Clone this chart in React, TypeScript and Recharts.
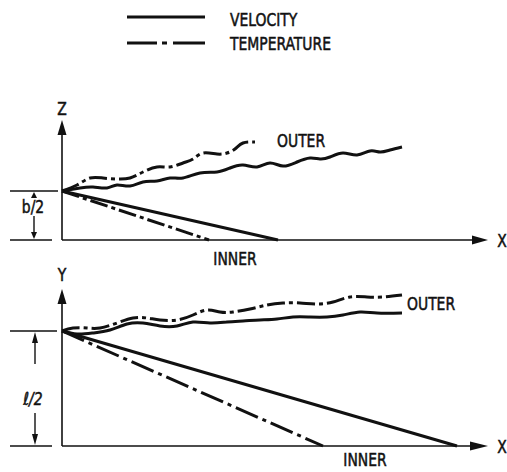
import React from 'react';
import { LineChart, Line, XAxis, YAxis, ReferenceLine, ReferenceDot, Legend } from 'recharts';

// ---------- data ----------
const legendLabels = ['VELOCITY', 'TEMPERATURE'];

// Top panel (X–Z plane): x measured from the Z axis, z measured from the X axis
const topVelocityOuter = [
  { x: 0, y: 49 }, { x: 18, y: 52 }, { x: 31, y: 53 }, { x: 45, y: 52 }, { x: 55, y: 55 },
  { x: 68, y: 54 }, { x: 81, y: 58 }, { x: 95, y: 59 }, { x: 108, y: 62 }, { x: 121, y: 62 },
  { x: 138, y: 67 }, { x: 155, y: 68 }, { x: 168, y: 72 }, { x: 181, y: 75 }, { x: 195, y: 73 },
  { x: 208, y: 77 }, { x: 221, y: 74 }, { x: 235, y: 78 }, { x: 248, y: 82 }, { x: 258, y: 81 },
  { x: 268, y: 83 }, { x: 281, y: 87 }, { x: 295, y: 85 }, { x: 308, y: 89 }, { x: 318, y: 88 },
  { x: 328, y: 90 }, { x: 340, y: 93 },
];
const topTemperatureOuter = [
  { x: 0, y: 49 }, { x: 15, y: 55 }, { x: 28, y: 62 }, { x: 41, y: 62 }, { x: 55, y: 61 },
  { x: 68, y: 62 }, { x: 81, y: 68 }, { x: 95, y: 73 }, { x: 108, y: 73 }, { x: 121, y: 77 },
  { x: 131, y: 81 }, { x: 141, y: 87 }, { x: 155, y: 86 }, { x: 165, y: 87 }, { x: 173, y: 91 },
  { x: 181, y: 97 }, { x: 193, y: 98 },
];
const topVelocityInner = [{ x: 0, y: 49 }, { x: 216, y: 0 }];
const topTemperatureInner = [{ x: 0, y: 49 }, { x: 147, y: 0 }];

// Bottom panel (X–Y plane): x measured from the Y axis, y measured from the X axis
const botVelocityOuter = [
  { x: 0, y: 115 }, { x: 15, y: 112 }, { x: 31, y: 113 }, { x: 48, y: 116 }, { x: 65, y: 122 },
  { x: 81, y: 123 }, { x: 98, y: 120 }, { x: 115, y: 120 }, { x: 131, y: 124 }, { x: 148, y: 123 },
  { x: 165, y: 124 }, { x: 181, y: 125 }, { x: 198, y: 126 }, { x: 215, y: 127 }, { x: 231, y: 129 },
  { x: 248, y: 129 }, { x: 265, y: 129 }, { x: 281, y: 131 }, { x: 298, y: 134 }, { x: 315, y: 133 },
  { x: 340, y: 133 },
];
const botTemperatureOuter = [
  { x: 0, y: 115 }, { x: 11, y: 118 }, { x: 25, y: 118 }, { x: 38, y: 118 }, { x: 55, y: 123 },
  { x: 71, y: 128 }, { x: 85, y: 128 }, { x: 98, y: 126 }, { x: 115, y: 126 }, { x: 131, y: 131 },
  { x: 145, y: 136 }, { x: 158, y: 134 }, { x: 171, y: 134 }, { x: 188, y: 137 }, { x: 205, y: 141 },
  { x: 221, y: 143 }, { x: 238, y: 143 }, { x: 255, y: 142 }, { x: 271, y: 144 }, { x: 288, y: 149 },
  { x: 305, y: 149 }, { x: 321, y: 149 }, { x: 340, y: 151 },
];
const botVelocityInner = [{ x: 0, y: 115 }, { x: 395, y: 0 }];
const botTemperatureInner = [{ x: 0, y: 115 }, { x: 261, y: 0 }];

// ---------- styles ----------
const FONT = "'Liberation Sans Narrow','DejaVu Sans Condensed','Arial Narrow',sans-serif";
const INK = '#111';
const CURVE_W = 3;
const DASH_DOT = '18 4 4 4';
const DASH_DOT_LONG = '24 5 4 5';
const FS = 18;
const SX = 0.86;

const arrowShape = (head: number, half: number, width: number) => (p: any) => {
  const { x1, y1, x2, y2 } = p;
  const dx = x2 - x1;
  const dy = y2 - y1;
  const len = Math.hypot(dx, dy) || 1;
  const ux = dx / len;
  const uy = dy / len;
  const bx = x2 - ux * head;
  const by = y2 - uy * head;
  const pts = `${x2},${y2} ${bx - uy * half},${by + ux * half} ${bx + uy * half},${by - ux * half}`;
  return (
    <g>
      <line x1={x1} y1={y1} x2={bx} y2={by} stroke={INK} strokeWidth={width} />
      <polygon points={pts} fill={INK} />
    </g>
  );
};

const Lettering = ({ x, y, label, anchor = 'start', italic = false }: any) => (
  <g transform={`translate(${x},${y}) scale(${SX},1)`}>
    <text
      x={0}
      y={0}
      textAnchor={anchor}
      dominantBaseline="central"
      fontFamily={FONT}
      fontSize={FS}
      fontStyle={italic ? 'italic' : 'normal'}
      fill={INK}
      stroke={INK}
      strokeWidth={0.5}
    >
      {label}
    </text>
  </g>
);

const textShape = (label: string, anchor: 'start' | 'middle' | 'end' = 'middle', italic = false) =>
  (p: any) => <Lettering x={p.cx} y={p.cy} label={label} anchor={anchor} italic={italic} />;

const LegendContent = () => (
  <svg width={240} height={60}>
    <line x1={7} y1={17} x2={85} y2={17} stroke={INK} strokeWidth={CURVE_W} />
    <Lettering x={110} y={20} label={legendLabels[0]} />
    <line x1={7} y1={43} x2={85} y2={43} stroke={INK} strokeWidth={CURVE_W} strokeDasharray="30 5 5 6 32 0" />
    <Lettering x={110} y={44} label={legendLabels[1]} />
  </svg>
);

const seriesLine = (id: string, data: any[], dash: string | undefined, name: string) => (
  <Line
    key={id}
    data={data}
    dataKey="y"
    name={name}
    type="natural"
    stroke={INK}
    strokeWidth={CURVE_W}
    strokeDasharray={dash}
    dot={false}
    activeDot={false}
    isAnimationActive={false}
    legendType="none"
  />
);

const M = { top: 0, right: 0, bottom: 0, left: 0 };

export default function App() {
  return (
    <div style={{ position: 'absolute', left: 0, top: 0, width: 507, height: 472, background: '#fff' }}>
      {/* Bottom panel */}
      <div style={{ position: 'absolute', left: 0, top: 262 }}>
        <LineChart width={507} height={210} margin={M}>
          <XAxis type="number" dataKey="x" domain={[-62, 445]} hide allowDataOverflow />
          <YAxis type="number" dataKey="y" domain={[-26, 184]} hide allowDataOverflow />
          <ReferenceLine segment={[{ x: 0, y: 0 }, { x: 0, y: 157 }]} shape={arrowShape(15, 4.5, 1.6)} ifOverflow="visible" />
          <ReferenceLine segment={[{ x: 0, y: 0 }, { x: 426, y: 0 }]} shape={arrowShape(18, 4.5, 1.6)} ifOverflow="visible" />
          <ReferenceLine segment={[{ x: -52, y: 0 }, { x: -10, y: 0 }]} stroke={INK} strokeWidth={1.6} ifOverflow="visible" />
          <ReferenceLine segment={[{ x: -52, y: 115 }, { x: -5, y: 115 }]} stroke={INK} strokeWidth={1.6} ifOverflow="visible" />
          <ReferenceLine segment={[{ x: -27, y: 82 }, { x: -27, y: 114 }]} shape={arrowShape(11, 3, 1.4)} ifOverflow="visible" />
          <ReferenceLine segment={[{ x: -27, y: 33 }, { x: -27, y: 1 }]} shape={arrowShape(11, 3, 1.4)} ifOverflow="visible" />
          {seriesLine('bvo', botVelocityOuter, undefined, 'VELOCITY')}
          {seriesLine('bto', botTemperatureOuter, DASH_DOT, 'TEMPERATURE')}
          {seriesLine('bvi', botVelocityInner, undefined, 'VELOCITY')}
          {seriesLine('bti', botTemperatureInner, DASH_DOT_LONG, 'TEMPERATURE')}
          <ReferenceDot x={0} y={171} r={0} shape={textShape('Y')} ifOverflow="visible" />
          <ReferenceDot x={440} y={-1} r={0} shape={textShape('X')} ifOverflow="visible" />
          <ReferenceDot x={-29} y={47} r={0} shape={textShape('ℓ/2', 'middle', true)} ifOverflow="visible" />
          <ReferenceDot x={345} y={142} r={0} shape={textShape('OUTER', 'start')} ifOverflow="visible" />
          <ReferenceDot x={303} y={-14} r={0} shape={textShape('INNER')} ifOverflow="visible" />
        </LineChart>
      </div>
      {/* Top panel */}
      <div style={{ position: 'absolute', left: 0, top: 0 }}>
        <LineChart width={507} height={280} margin={M}>
          <XAxis type="number" dataKey="x" domain={[-62, 445]} hide allowDataOverflow />
          <YAxis type="number" dataKey="y" domain={[-40, 240]} hide allowDataOverflow />
          <Legend
            layout="horizontal"
            verticalAlign="middle"
            align="center"
            content={<LegendContent />}
            wrapperStyle={{ position: 'absolute', left: 120, top: 0, width: 240, height: 60, margin: 0 }}
          />
          {/* axes */}
          <ReferenceLine segment={[{ x: 0, y: 0 }, { x: 0, y: 120 }]} shape={arrowShape(15, 4.5, 1.6)} ifOverflow="visible" />
          <ReferenceLine segment={[{ x: 0, y: 0 }, { x: 426, y: 0 }]} shape={arrowShape(16, 4.5, 1.6)} ifOverflow="visible" />
          {/* extension lines */}
          <ReferenceLine segment={[{ x: -52, y: 0 }, { x: -10, y: 0 }]} stroke={INK} strokeWidth={1.6} ifOverflow="visible" />
          <ReferenceLine segment={[{ x: -52, y: 49 }, { x: -4, y: 49 }]} stroke={INK} strokeWidth={1.6} ifOverflow="visible" />
          {/* dimension arrows */}
          <ReferenceLine segment={[{ x: -28, y: 42 }, { x: -28, y: 48 }]} shape={arrowShape(6, 3, 1.4)} ifOverflow="visible" />
          <ReferenceLine segment={[{ x: -28, y: 24 }, { x: -28, y: 1 }]} shape={arrowShape(7, 3, 1.4)} ifOverflow="visible" />
          {seriesLine('tvo', topVelocityOuter, undefined, 'VELOCITY')}
          {seriesLine('tto', topTemperatureOuter, DASH_DOT, 'TEMPERATURE')}
          {seriesLine('tvi', topVelocityInner, undefined, 'VELOCITY')}
          {seriesLine('tti', topTemperatureInner, DASH_DOT, 'TEMPERATURE')}
          {/* labels */}
          <ReferenceDot x={0} y={131} r={0} shape={textShape('Z')} ifOverflow="visible" />
          <ReferenceDot x={440} y={-1} r={0} shape={textShape('X')} ifOverflow="visible" />
          <ReferenceDot x={-29} y={33} r={0} shape={textShape('b/2')} ifOverflow="visible" />
          <ReferenceDot x={215} y={99} r={0} shape={textShape('OUTER', 'start')} ifOverflow="visible" />
          <ReferenceDot x={173} y={-19} r={0} shape={textShape('INNER')} ifOverflow="visible" />
        </LineChart>
      </div>
    </div>
  );
}
